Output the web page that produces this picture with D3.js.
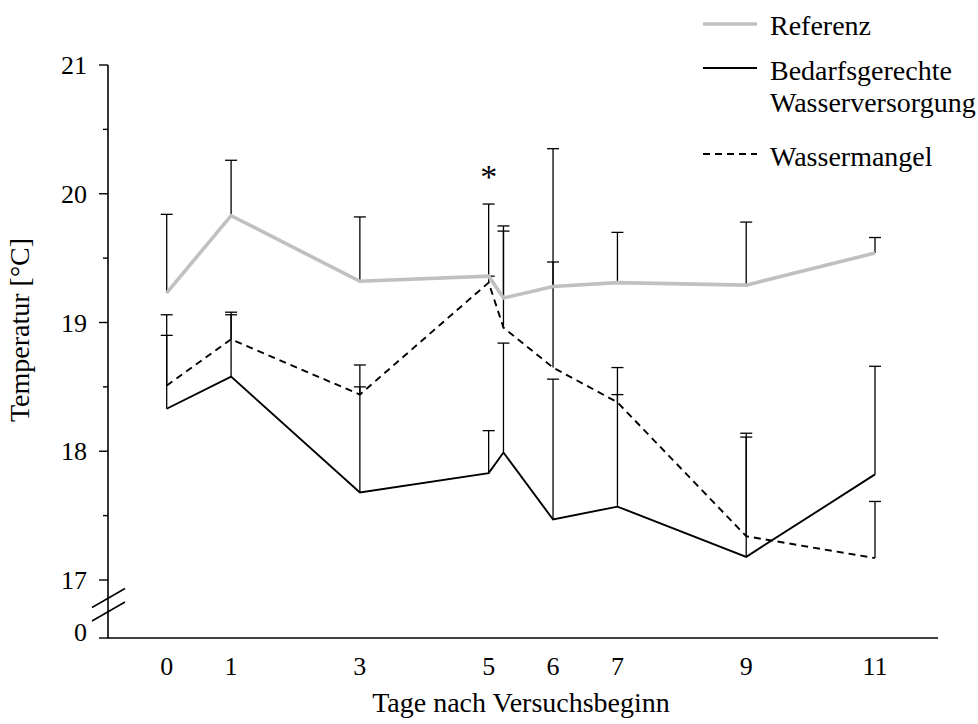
<!DOCTYPE html>
<html>
<head>
<meta charset="utf-8">
<script src="https://cdn.jsdelivr.net/npm/d3@7"></script>
<style>
  html, body { margin: 0; padding: 0; background: #fff; }
  svg text { font-family: "Liberation Serif", "DejaVu Serif", serif; fill: #000; }
</style>
</head>
<body>
<svg id="chart" width="978" height="724"></svg>
<script>
// ---- data ----
const days = [0, 1, 3, 5, 5.23, 6, 7, 9, 11];
const xTickValues = [0, 1, 3, 5, 6, 7, 9, 11];
const yMajorTicks = [0, 17, 18, 19, 20, 21];
const yMinorTicks = [17.5, 18.5, 19.5, 20.5];

const refMean  = [19.23, 19.83, 19.32, 19.36, 19.19, 19.28, 19.31, 19.29, 19.54];
const refUpper = [19.84, 20.26, 19.82, 19.92, 19.71, 20.35, 19.70, 19.78, 19.66];

const bedMean  = [18.33, 18.58, 17.68, 17.83, 17.99, 17.47, 17.57, 17.18, 17.82];
const bedUpper = [18.90, 19.08, 18.50, 18.16, 18.84, 18.56, 18.65, 18.11, 18.66];

const manMean  = [18.51, 18.87, 18.44, 19.31, 18.96, 18.65, 18.38, 17.34, 17.17];
const manUpper = [19.06, 19.06, 18.67, 19.36, 19.75, 19.47, 18.44, 18.14, 17.61];

const legendLabels = [["Referenz"], ["Bedarfsgerechte", "Wasserversorgung"], ["Wassermangel"]];
const xTitle = "Tage nach Versuchsbeginn";
const yTitle = "Temperatur [°C]";

// ---- scales ----
const svg = d3.select("#chart");
const x = d3.scaleLinear().domain([0, 11]).range([166.7, 875]);
const y = d3.scaleLinear().domain([0, 17, 21]).range([638, 580, 65]);
const axisX0 = 108, axisX1 = 938;

// ---- axes ----
const g = svg.append("g");
g.append("line").attr("x1", axisX0).attr("x2", axisX0).attr("y1", y(21)).attr("y2", y(0))
  .attr("stroke", "#000").attr("stroke-width", 1.6);
g.append("line").attr("x1", axisX0 - 0.8).attr("x2", axisX1).attr("y1", y(0)).attr("y2", y(0))
  .attr("stroke", "#000").attr("stroke-width", 1.6);

g.selectAll(".ymaj").data(yMajorTicks).enter().append("line")
  .attr("x1", axisX0 - 9).attr("x2", axisX0).attr("y1", d => y(d)).attr("y2", d => y(d))
  .attr("stroke", "#000").attr("stroke-width", 1.4);
g.selectAll(".ymin").data(yMinorTicks).enter().append("line")
  .attr("x1", axisX0 - 5).attr("x2", axisX0).attr("y1", d => y(d)).attr("y2", d => y(d))
  .attr("stroke", "#000").attr("stroke-width", 1.4);
g.selectAll(".ylab").data(yMajorTicks).enter().append("text")
  .attr("x", 87).attr("y", d => y(d) + (d === 0 ? -6 : 0))
  .attr("dy", "0.35em").attr("text-anchor", "end").attr("font-size", 26)
  .text(d => d);

// axis break marks
[0, 1].forEach(i => {
  const yy = 598 + i * 13.5;
  g.append("line").attr("x1", axisX0 - 16).attr("x2", axisX0 + 17)
    .attr("y1", yy + 9.5).attr("y2", yy - 9.5)
    .attr("stroke", "#000").attr("stroke-width", 1.5);
});

g.selectAll(".xlab").data(xTickValues).enter().append("text")
  .attr("x", d => x(d)).attr("y", 675).attr("text-anchor", "middle").attr("font-size", 26)
  .text(d => d);

g.append("text").attr("x", 521).attr("y", 712).attr("text-anchor", "middle")
  .attr("font-size", 28).text(xTitle);
g.append("text").attr("transform", "translate(29,330) rotate(-90)").attr("text-anchor", "middle")
  .attr("font-size", 28).text(yTitle);

// ---- series ----
const series = [
  { mean: refMean, upper: refUpper, stroke: "#c0c0c0", width: 3.6, dash: null },
  { mean: bedMean, upper: bedUpper, stroke: "#000", width: 1.9, dash: null },
  { mean: manMean, upper: manUpper, stroke: "#000", width: 1.9, dash: "7,5" }
];

const line = d3.line().x(d => x(d[0])).y(d => y(d[1]));

series.forEach(s => {
  const pts = days.map((d, i) => [d, s.mean[i], s.upper[i]]);
  const eg = svg.append("g");
  eg.selectAll("line.v").data(pts).enter().append("line")
    .attr("x1", d => x(d[0])).attr("x2", d => x(d[0]))
    .attr("y1", d => y(d[1])).attr("y2", d => y(d[2]))
    .attr("stroke", "#000").attr("stroke-width", 1.3);
  eg.selectAll("line.c").data(pts).enter().append("line")
    .attr("x1", d => x(d[0]) - 6).attr("x2", d => x(d[0]) + 6)
    .attr("y1", d => y(d[2])).attr("y2", d => y(d[2]))
    .attr("stroke", "#000").attr("stroke-width", 1.3);
});

series.forEach(s => {
  const pts = days.map((d, i) => [d, s.mean[i]]);
  svg.append("path").datum(pts).attr("d", line)
    .attr("fill", "none").attr("stroke", s.stroke).attr("stroke-width", s.width)
    .attr("stroke-dasharray", s.dash).attr("stroke-linejoin", "miter");
});

svg.append("text").attr("x", x(5)).attr("y", 188).attr("text-anchor", "middle")
  .attr("font-size", 34).text("*");

// ---- legend ----
const leg = svg.append("g");
const legY = [24, 68, 154];
const legText = [[35], [80, 112], [166]];
series.forEach((s, i) => {
  leg.append("line").attr("x1", 703).attr("x2", 757).attr("y1", legY[i]).attr("y2", legY[i])
    .attr("stroke", s.stroke).attr("stroke-width", s.width).attr("stroke-dasharray", s.dash);
  legendLabels[i].forEach((t, j) => {
    leg.append("text").attr("x", 770).attr("y", legText[i][j]).attr("font-size", 28).text(t);
  });
});
</script>
</body>
</html>
